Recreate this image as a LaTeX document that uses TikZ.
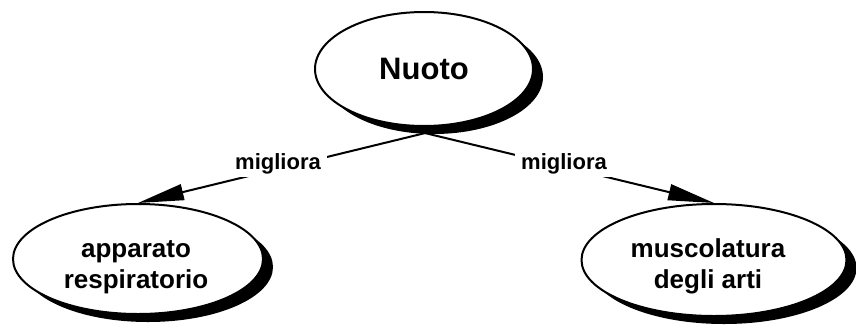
\documentclass[tikz,border=0pt]{standalone}
\usepackage{fontspec}
\setmainfont{Liberation Sans}
\usetikzlibrary{shapes.geometric,arrows.meta,shadows,backgrounds}
\begin{document}
\begin{tikzpicture}[x=1pt,y=-1pt,
  concept/.style={ellipse, draw=black, line width=2pt, fill=white, inner sep=0pt,
    drop shadow={shadow xshift=10pt, shadow yshift=-8pt, fill=black, opacity=1}},
  lbl/.style={fill=white, inner xsep=6pt, inner ysep=3pt, font=\fontsize{22}{26}\selectfont\bfseries},
  conn/.style={line width=2pt, -{Triangle[length=46pt,width=16pt]}},
  ctext/.style={font=\fontsize{26}{31}\selectfont\bfseries, align=center, inner sep=0pt}]
\useasboundingbox (0,0) rectangle (856,327);
\node[concept, minimum width=218pt, minimum height=114pt] (nuoto) at (424,69) {};
\node[font=\fontsize{31}{36}\selectfont\bfseries, inner sep=0pt] (nuotoT) at (424,69) {Nuoto};
\node[concept, minimum width=250pt, minimum height=110pt] (app) at (138,259) {};
\node[ctext] (appT) at (136,267) {apparato\\respiratorio};
\node[concept, minimum width=265pt, minimum height=112pt] (mus) at (714,260) {};
\node[ctext] (musT) at (708,266) {muscolatura\\degli arti};
\node[lbl] (l1) at (278,164) {migliora};
\node[lbl] (l2) at (564,164) {migliora};
\begin{scope}[on background layer]
  \draw[conn] ([xshift=26pt]nuoto.south) -- (app.north);
  \draw[conn] ([xshift=-24pt]nuoto.south) -- (mus.north);
\end{scope}
\end{tikzpicture}
\end{document}
